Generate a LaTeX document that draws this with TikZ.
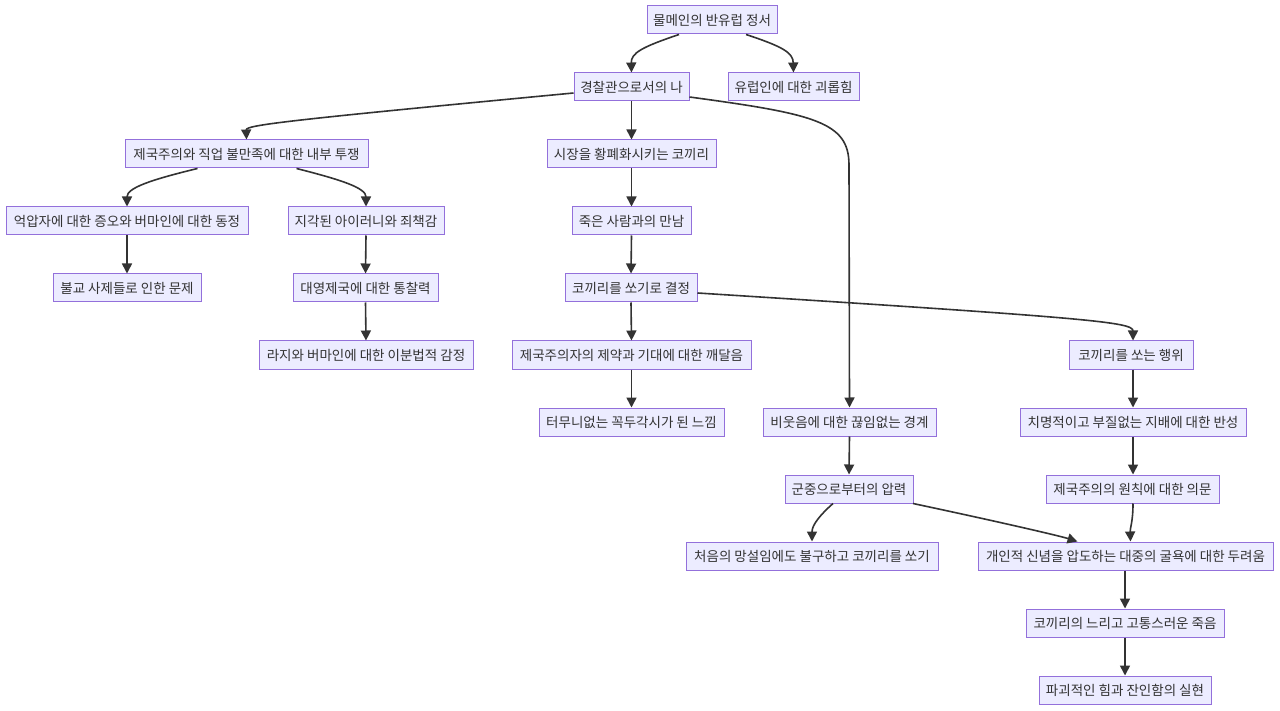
\documentclass[tikz,border=0pt]{standalone}
\usepackage{fontspec}
\setmainfont{Noto Sans CJK KR}
\usetikzlibrary{arrows.meta}
\definecolor{nodefill}{HTML}{ECECFF}
\definecolor{nodeline}{HTML}{9370DB}
\definecolor{edgeline}{HTML}{333333}
\begin{document}
\begin{tikzpicture}[x=1pt,y=-1pt,
  box/.style={draw=nodeline,fill=nodefill,line width=1pt,minimum height=28pt,inner sep=0pt,text=edgeline,font=\fontsize{13.5}{15}\selectfont},
  edge/.style={draw=edgeline,line width=1.6pt,-{Triangle[length=10pt,width=10pt]}}]
\useasboundingbox[fill=white] (0,0) rectangle (1280,711);
\node[box,minimum width=130pt] (A) at (712,20) {물메인의 반유럽 정서};
\node[box,minimum width=115pt] (B) at (631.5,87) {경찰관으로서의 나};
\node[box,minimum width=131pt] (C) at (793.5,87) {유럽인에 대한 괴롭힘};
\node[box,minimum width=243pt] (D) at (246.5,154) {제국주의와 직업 불만족에 대한 내부 투쟁};
\node[box,minimum width=169pt] (E) at (631.5,154) {시장을 황폐화시키는 코끼리};
\node[box,minimum width=242pt] (F) at (127,221) {억압자에 대한 증오와 버마인에 대한 동정};
\node[box,minimum width=156pt] (G) at (366,221) {지각된 아이러니와 죄책감};
\node[box,minimum width=119pt] (H) at (631.5,221) {죽은 사람과의 만남};
\node[box,minimum width=148pt] (I) at (127,288) {불교 사제들로 인한 문제};
\node[box,minimum width=145pt] (J) at (365.5,288) {대영제국에 대한 통찰력};
\node[box,minimum width=132pt] (K) at (631,288) {코끼리를 쏘기로 결정};
\node[box,minimum width=214pt] (L) at (366,355) {라지와 버마인에 대한 이분법적 감정};
\node[box,minimum width=239pt] (M) at (631.5,355) {제국주의자의 제약과 기대에 대한 깨달음};
\node[box,minimum width=124pt] (N) at (1131,355) {코끼리를 쏘는 행위};
\node[box,minimum width=185pt] (O) at (631.5,422) {터무니없는 꼭두각시가 된 느낌};
\node[box,minimum width=173pt] (P) at (849.5,422) {비웃음에 대한 끊임없는 경계};
\node[box,minimum width=226pt] (Q) at (1133,422) {치명적이고 부질없는 지배에 대한 반성};
\node[box,minimum width=128pt] (R) at (849,489) {군중으로부터의 압력};
\node[box,minimum width=173pt] (S) at (1132.5,489) {제국주의의 원칙에 대한 의문};
\node[box,minimum width=252pt] (T) at (812,556) {처음의 망설임에도 불구하고 코끼리를 쏘기};
\node[box,minimum width=295pt] (U) at (1125.5,556) {개인적 신념을 압도하는 대중의 굴욕에 대한 두려움};
\node[box,minimum width=198pt] (V) at (1125,623) {코끼리의 느리고 고통스러운 죽음};
\node[box,minimum width=172pt] (W) at (1125,690) {파괴적인 힘과 잔인함의 실현};
% edges
\draw[edge] ([xshift=-33pt]A.south) .. controls (642,47) and (631,53) .. (B.north);
\draw[edge] ([xshift=34pt]A.south) .. controls (784,47) and (793,53) .. (C.north);
\draw[edge] ([yshift=-6pt]B.west) .. controls (290,120) and (246,125) .. (D.north);
\draw[edge] (B.south) -- (E.north);
\draw[edge] ([yshift=-10pt]B.east) .. controls (815,114) and (849,122) .. (849,165) -- (P.north);
\draw[edge] ([xshift=-49pt]D.south) .. controls (150,180) and (127,188) .. (F.north);
\draw[edge] ([xshift=50pt]D.south) .. controls (342,180) and (366,188) .. (G.north);
\draw[edge] (E.south) -- (H.north);
\draw[edge] (F.south) -- (I.north);
\draw[edge] (G.south) -- (J.north);
\draw[edge] (H.south) -- (K.north);
\draw[edge] (J.south) -- (L.north);
\draw[edge] (K.south) -- (M.north);
\draw[edge] ([yshift=-5pt]K.east) .. controls (1090,318) and (1133,322) .. ([xshift=2pt]N.north);
\draw[edge] (M.south) -- (O.north);
\draw[edge] ([xshift=2pt]N.south) -- (Q.north);
\draw[edge] (P.south) -- (R.north);
\draw[edge] (Q.south) -- ([xshift=0.5pt]S.north);
\draw[edge] ([xshift=-16pt]R.south) .. controls (820,515) and (812,525) .. (T.north);
\draw[edge] ([xshift=64pt]R.south) .. controls (1000,522) and (1060,536) .. ([xshift=-48pt]U.north);
\draw[edge] ([xshift=0.5pt]S.south) .. controls (1133,522) and (1130,528) .. ([xshift=5pt]U.north);
\draw[edge] ([xshift=-0.5pt]U.south) -- (V.north);
\draw[edge] (V.south) -- (W.north);
\end{tikzpicture}
\end{document}
